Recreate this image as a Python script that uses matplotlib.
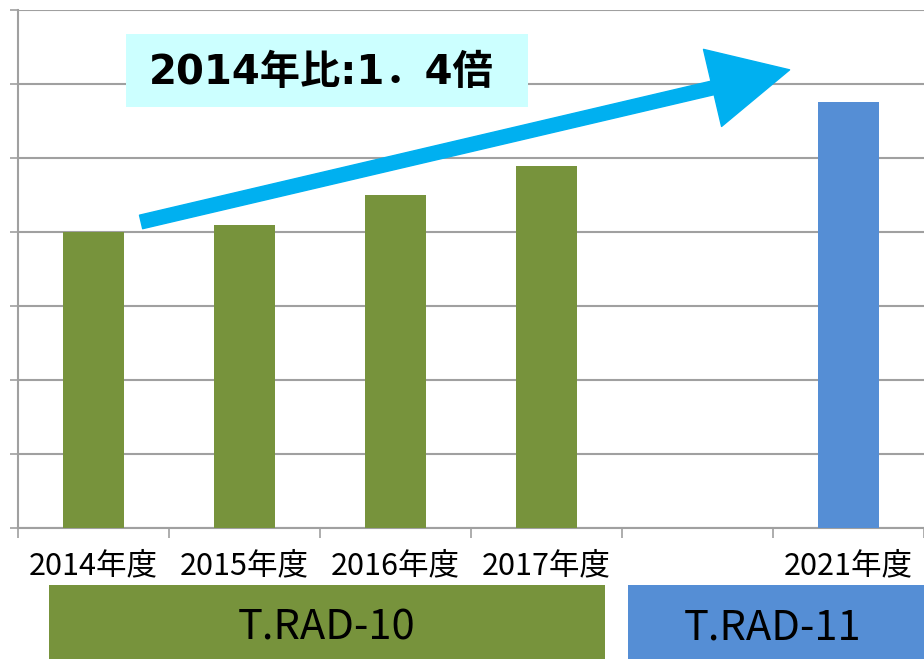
import numpy as np
import matplotlib
matplotlib.use("Agg")
import matplotlib.pyplot as plt
from matplotlib.patches import Rectangle
import matplotlib.transforms as mtransforms

plt.rcParams["font.family"] = ["Noto Sans CJK JP", "DejaVu Sans"]

# データ
categories = ["2014年度", "2015年度", "2016年度", "2017年度", "", "2021年度"]
values = [4.0, 4.09, 4.5, 4.89, 0.0, 5.75]
series = ["T.RAD-10", "T.RAD-10", "T.RAD-10", "T.RAD-10", "", "T.RAD-11"]
ratio_label = "2014年比:1．4倍"

green = "#77933C"
blue = "#558ED5"
grid_c = "#A0A0A0"
colors = [green if s == "T.RAD-10" else blue for s in series]

fig = plt.figure(figsize=(9.24, 6.59), dpi=100)
ax = fig.add_axes([0.0195, 0.1988, 0.9805, 0.7862])

x = np.arange(len(categories))
ax.bar(x, values, width=0.4, color=colors, zorder=3)

ax.set_xlim(-0.5, len(categories) - 0.5)
ax.set_ylim(0, 7)
ax.set_yticks(np.arange(0, 8))
ax.set_yticklabels([])
ax.yaxis.grid(True, color=grid_c, linewidth=1.5, zorder=0)
ax.tick_params(axis="y", length=6, width=1.2, color=grid_c, direction="out")

ax.set_xticks(x)
ax.set_xticklabels(categories, fontsize=22)
ax.tick_params(axis="x", which="major", length=0, pad=16)
ax.set_xticks(np.arange(-0.5, len(categories), 1.0), minor=True)
ax.tick_params(axis="x", which="minor", length=7, width=1.2, color=grid_c, direction="out")

for side in ["top", "right"]:
    ax.spines[side].set_visible(False)
for side in ["left", "bottom"]:
    ax.spines[side].set_color(grid_c)
    ax.spines[side].set_linewidth(1.5)

# 矢印
ax.annotate("", xy=(4.61, 6.19), xytext=(0.315, 4.135),
            arrowprops=dict(arrowstyle="simple,head_length=57,head_width=57,tail_width=10",
                            mutation_scale=1, color="#00B0F0", shrinkA=0, shrinkB=0),
            zorder=5)

# 注釈ボックス
ax.add_patch(Rectangle((0.215, 5.69), 2.662, 0.986, facecolor="#CCFFFF",
                       edgecolor="none", zorder=4, clip_on=False))
ax.text(1.51, 6.15, ratio_label, ha="center", va="center", fontsize=29,
        fontweight="bold", zorder=6, family=["DejaVu Sans", "Noto Sans CJK JP"])

# 下部のシリーズ帯
trans = mtransforms.blended_transform_factory(ax.transData, fig.transFigure)
bands = [("T.RAD-10", -0.295, 3.387, green), ("T.RAD-11", 3.54, 5.6, blue)]
for name, x0, x1, c in bands:
    fig.patches.append(Rectangle((x0, 0), x1 - x0, 0.1123, transform=trans,
                                 facecolor=c, edgecolor="none"))
    xc = (x0 + min(x1, 5.46)) / 2
    fig.text(xc, 0.047, name, transform=trans, ha="center", va="center",
             fontsize=30)

fig.savefig("out.png", dpi=100)
